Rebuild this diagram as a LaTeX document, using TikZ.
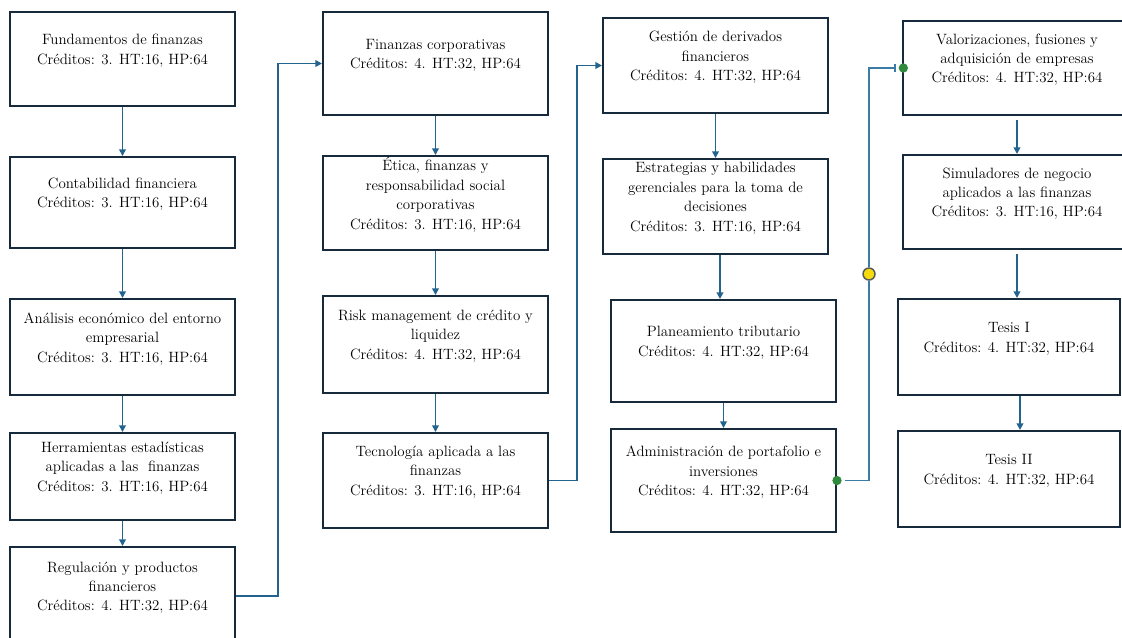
\documentclass[tikz,border=0pt]{standalone}
\usetikzlibrary{arrows.meta}
\definecolor{boxc}{HTML}{172A3B}
\definecolor{linec}{HTML}{22648E}
\definecolor{linec2}{HTML}{3A7CA5}
\definecolor{dotg}{HTML}{2E8B3E}
\definecolor{doty}{HTML}{F5DA0C}
\newcommand\coursebox[6]{%
  \node[course, minimum width=#4*0.75pt, minimum height=#5*0.75pt] (#1) at (#2,#3) {#6\\~};}
\begin{document}
\begin{tikzpicture}[x=0.75pt,y=-0.75pt,
  course/.style={draw=boxc,line width=1.5pt,fill=white,align=center,inner sep=0pt,
    font=\rmfamily\fontsize{11.2}{14.6}\selectfont, text=black},
  arr/.style={draw=linec,line width=1.4pt,-{Triangle[length=5pt,width=5pt]}},
  conn/.style={draw=linec2,line width=1.4pt},
  gdot/.style={circle,fill=dotg,draw=none,inner sep=0pt,minimum size=7pt},
  ydot/.style={circle,fill=doty,draw=gray!70!black,line width=1.1pt,inner sep=0pt,minimum size=9pt}]
\useasboundingbox (0,0) rectangle (1122,637);
% column 1
\coursebox{b11}{122.5}{59}{225}{94}{Fundamentos de finanzas\\Créditos: 3. HT:16, HP:64}
\coursebox{b12}{122.5}{202.5}{225}{91}{Contabilidad financiera\\Créditos: 3. HT:16, HP:64}
\coursebox{b13}{122.5}{347}{225}{96}{Análisis económico del entorno\\empresarial\\Créditos: 3. HT:16, HP:64}
\coursebox{b14}{122.5}{476.5}{225}{87}{Herramientas estadísticas\\aplicadas a las\ \ finanzas\\Créditos: 3. HT:16, HP:64}
\coursebox{b15}{122.5}{596}{225}{98}{Regulación y productos\\financieros\\Créditos: 4. HT:32, HP:64}
% column 2
\coursebox{b21}{435.5}{63.5}{225}{103}{Finanzas corporativas\\Créditos: 4. HT:32, HP:64}
\coursebox{b22}{435.5}{203}{225}{94}{Ética, finanzas y\\responsabilidad social\\corporativas\\Créditos: 3. HT:16, HP:64}
\coursebox{b23}{435.5}{344.5}{225}{97}{Risk management de crédito y\\liquidez\\Créditos: 4. HT:32, HP:64}
\coursebox{b24}{435.5}{480.5}{225}{95}{Tecnología aplicada a las\\finanzas\\Créditos: 3. HT:16, HP:64}
% column 3
\coursebox{b31}{715.5}{65.5}{225}{95}{Gestión de derivados\\financieros\\Créditos: 4. HT:32, HP:64}
\coursebox{b32}{715.5}{206.5}{225}{95}{Estrategias y habilidades\\gerenciales para la toma de\\decisiones\\Créditos: 3. HT:16, HP:64}
\coursebox{b33}{723.5}{351}{225}{102}{Planeamiento tributario\\Créditos: 4. HT:32, HP:64}
\coursebox{b34}{723.5}{480.5}{225}{103}{Administración de portafolio e\\inversiones\\Créditos: 4. HT:32, HP:64}
% column 4
\coursebox{b41}{1017}{68}{228}{94}{Valorizaciones, fusiones y\\adquisición de empresas\\Créditos: 4. HT:32, HP:64}
\coursebox{b42}{1017}{202}{228}{94}{Simuladores de negocio\\aplicados a las finanzas\\Créditos: 3. HT:16, HP:64}
\coursebox{b43}{1009}{347}{222}{96}{Tesis I\\Créditos: 4. HT:32, HP:64}
\coursebox{b44}{1009}{479}{222}{96}{Tesis II\\Créditos: 4. HT:32, HP:64}
% helper x positions
\coordinate (x720) at (720,0);
\coordinate (x1017) at (1017,0);
\coordinate (x1020) at (1020,0);
% vertical arrows
\draw[arr] (b11) -- (b12);
\draw[arr] (b12) -- (b13);
\draw[arr] (b13) -- (b14);
\draw[arr] (b14) -- (b15);
\draw[arr] (b21) -- (b22);
\draw[arr] (b22) -- (b23);
\draw[arr] (b23) -- (b24);
\draw[arr] (b31) -- (b32);
\draw[arr] (b32.south -| x720) -- (b33.north -| x720);
\draw[arr] (b33) -- (b34);
\draw[arr] ([yshift=-3pt]b41.south) -- (b42.north);
\draw[arr] ([yshift=-3pt]b42.south -| x1017) -- (b43.north -| x1017);
\draw[arr] (b43.south -| x1020) -- (b44.north -| x1020);
% elbow connectors between columns
\draw[arr] (b15.east) -- ++(42,0) |- (b21.west);
\draw[arr] (b24.east) -- ++(28,0) |- (b31.west);
% connector with dots
\node[gdot] (d1) at (b34.east) {};
\node[gdot] (d2) at ([xshift=1pt]b41.west) {};
\node[ydot] (y1) at (869,274) {};
\draw[conn,shorten <=2.5pt] (d1.east) -| (y1.south);
\draw[conn,-{Bar[width=6pt,line width=1pt]},shorten >=2pt] (y1.north) |- (d2.west);
\end{tikzpicture}
\end{document}
